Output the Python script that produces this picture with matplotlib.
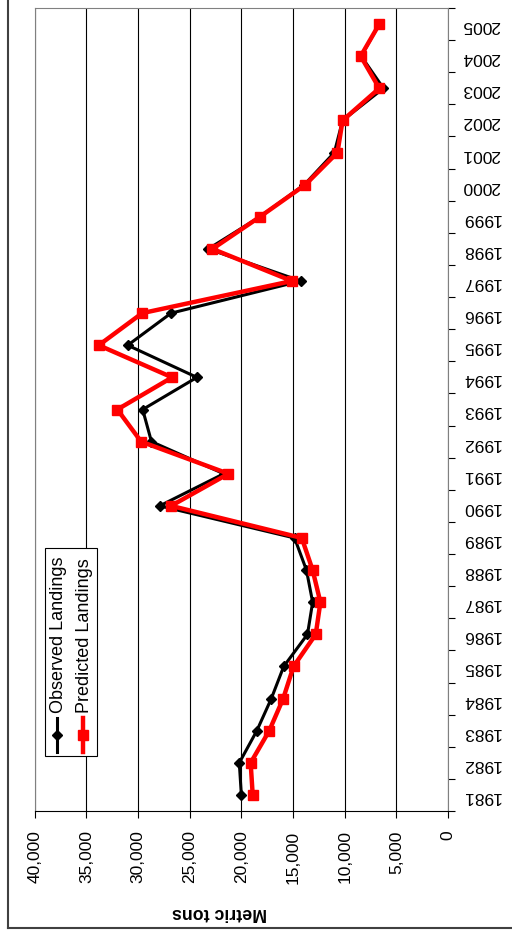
import numpy as np
import matplotlib
matplotlib.use("Agg")
import matplotlib.pyplot as plt
from matplotlib.patches import Rectangle
from matplotlib.lines import Line2D
from matplotlib.ticker import FixedLocator, FuncFormatter

plt.rcParams['font.family'] = ['Liberation Sans', 'DejaVu Sans']

years = list(range(1981, 2006))
observed = [20000, 20200, 18500, 17100, 15900, 13600, 13100, 13700, 14850,
            27900, 21700, 28700, 29550, 24300, 31000, 26800, 14250,
            23200, 18200, 13900, 11000, 10200, 6250, 8400, 6650]
predicted = [18900, 19100, 17300, 15950, 14950, 12800, 12350, 13100, 14150,
             26800, 21250, 29700, 32000, 26700, 33800, 29600, 15100,
             22800, 18200, 13800, 10700, 10200, 6650, 8450, 6650]
value_ticks = [40000, 35000, 30000, 25000, 20000, 15000, 10000, 5000, 0]

fig = plt.figure(figsize=(5.12, 9.34), dpi=100)
ax = fig.add_axes([34.7 / 512, 1 - 811 / 934, 413.3 / 512, 803 / 934])

# rotated chart: values run along x (reversed), years along y
ax.plot(observed, years, color='black', lw=2.2, marker='D', ms=5.5, zorder=3)
ax.plot(predicted, years, color='#ff0000', lw=3.2, marker='s', ms=7, zorder=4)

ax.set_xlim(40000, 0)
ax.set_ylim(1980.5, 2005.5)

ax.set_xticks(value_ticks)
ax.xaxis.set_major_formatter(FuncFormatter(lambda v, p: f"{int(v):,}"))
ax.grid(axis='x', color='black', lw=0.8)
ax.tick_params(axis='x', direction='out', length=5, width=0.8, pad=9,
               labelsize=12.5, labelrotation=90)

ax.yaxis.tick_right()
ax.yaxis.set_major_locator(FixedLocator(np.arange(1980.5, 2006, 1)))
ax.yaxis.set_minor_locator(FixedLocator(years))
ax.yaxis.set_major_formatter(plt.NullFormatter())
ax.yaxis.set_minor_formatter(FuncFormatter(lambda v, p: str(int(round(v)))))
ax.tick_params(axis='y', which='major', direction='out', length=5, width=0.8)
ax.tick_params(axis='y', which='minor', length=0, pad=10, labelsize=12.5)
for t in ax.yaxis.get_minorticklabels():
    t.set_rotation(180)

for s in ['left', 'top', 'right']:
    ax.spines[s].set_color('#808080')
ax.spines['bottom'].set_color('black')

ax.set_xlabel('Metric tons', fontsize=12.8, fontweight='bold', rotation=180,
              va='center', ha='center')
ax.xaxis.set_label_coords(0.446, -0.127)

# legend box drawn by hand, rotated like the chart
ax.add_patch(Rectangle((0.025, 0.0685), 0.126, 0.259, transform=ax.transAxes,
                       facecolor='white', edgecolor='black', lw=0.8, zorder=5))
ax.add_line(Line2D([0.0547, 0.0547], [0.0735, 0.1158], transform=ax.transAxes,
                   color='black', lw=2.2, zorder=6))
ax.add_line(Line2D([0.0547], [0.0947], transform=ax.transAxes, color='black',
                   marker='D', ms=5.5, zorder=6))
ax.add_line(Line2D([0.1176, 0.1176], [0.0735, 0.1158], transform=ax.transAxes,
                   color='#ff0000', lw=3.2, zorder=6))
ax.add_line(Line2D([0.1176], [0.0947], transform=ax.transAxes, color='#ff0000',
                   marker='s', ms=7, zorder=6))
ax.text(0.057, 0.122, 'Observed Landings', transform=ax.transAxes, rotation=90,
        ha='center', va='bottom', fontsize=13, zorder=6)
ax.text(0.1217, 0.122, 'Predicted Landings', transform=ax.transAxes, rotation=90,
        ha='center', va='bottom', fontsize=13, zorder=6)

# chart area border (left and bottom visible)
fig.add_artist(Line2D([8 / 512, 8 / 512], [1 - 928 / 934, 1.0],
                      transform=fig.transFigure, color='#404040', lw=1.5))
fig.add_artist(Line2D([8 / 512, 1.0], [1 - 928 / 934, 1 - 928 / 934],
                      transform=fig.transFigure, color='#404040', lw=1.5))

fig.savefig('out.png', dpi=100)
